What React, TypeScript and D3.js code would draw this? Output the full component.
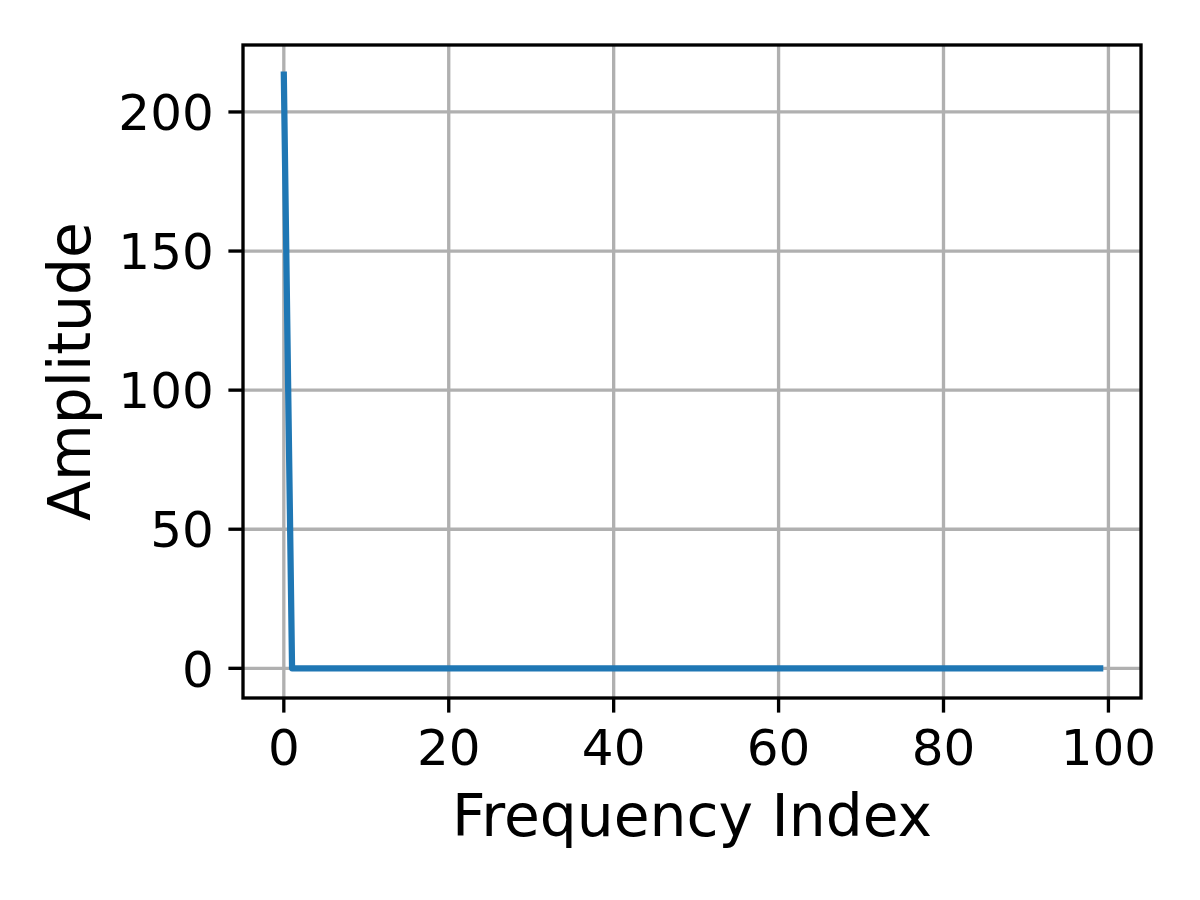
import React from "react";
import * as d3 from "d3";

const amplitude: number[] = [
  213.4, 0, 0, 0, 0, 0, 0, 0, 0, 0,
  0, 0, 0, 0, 0, 0, 0, 0, 0, 0,
  0, 0, 0, 0, 0, 0, 0, 0, 0, 0,
  0, 0, 0, 0, 0, 0, 0, 0, 0, 0,
  0, 0, 0, 0, 0, 0, 0, 0, 0, 0,
  0, 0, 0, 0, 0, 0, 0, 0, 0, 0,
  0, 0, 0, 0, 0, 0, 0, 0, 0, 0,
  0, 0, 0, 0, 0, 0, 0, 0, 0, 0,
  0, 0, 0, 0, 0, 0, 0, 0, 0, 0,
  0, 0, 0, 0, 0, 0, 0, 0, 0, 0,
];
const xTicks: number[] = [0, 20, 40, 60, 80, 100];
const yTicks: number[] = [0, 50, 100, 150, 200];
const xLabel = "Frequency Index";
const yLabel = "Amplitude";

export default function App() {
  const W = 1200, H = 900;
  const left = 243, right = 1141, top = 45, bottom = 698;
  const n = amplitude.length;
  const xMin = 0, xMax = n - 1;
  const xPad = (xMax - xMin) * 0.05;
  const yMinD = d3.min(amplitude)!, yMaxD = d3.max(amplitude)!;
  const yPad = (yMaxD - yMinD) * 0.05;
  const x = d3.scaleLinear().domain([xMin - xPad, xMax + xPad]).range([left, right]);
  const y = d3.scaleLinear().domain([yMinD - yPad, yMaxD + yPad]).range([bottom, top]);
  const line = d3.line<number>().x((_, i) => x(i)).y((d) => y(d));
  const font = "'DejaVu Sans', sans-serif";
  const tickLen = 14.6;
  const sw = 3.33;
  return (
    <svg width={W} height={H} style={{ position: "absolute", left: 0, top: 0, background: "#fff" }}>
      <rect x={0} y={0} width={W} height={H} fill="#fff" />
      <defs>
        <clipPath id="plotclip">
          <rect x={left} y={top} width={right - left} height={bottom - top} />
        </clipPath>
      </defs>
      {/* grid */}
      <g stroke="#b0b0b0" strokeWidth={sw}>
        {xTicks.map((t) => (
          <line key={"gx" + t} x1={x(t)} x2={x(t)} y1={top} y2={bottom} />
        ))}
        {yTicks.map((t) => (
          <line key={"gy" + t} x1={left} x2={right} y1={y(t)} y2={y(t)} />
        ))}
      </g>
      {/* data */}
      <path
        d={line(amplitude)!}
        fill="none"
        stroke="#1f77b4"
        strokeWidth={6.25}
        strokeLinejoin="round"
        strokeLinecap="square"
        clipPath="url(#plotclip)"
      />
      {/* spines */}
      <rect x={left} y={top} width={right - left} height={bottom - top} fill="none" stroke="#000" strokeWidth={sw} strokeLinejoin="miter" />
      {/* ticks */}
      <g stroke="#000" strokeWidth={sw}>
        {xTicks.map((t) => (
          <line key={"tx" + t} x1={x(t)} x2={x(t)} y1={bottom} y2={bottom + tickLen} />
        ))}
        {yTicks.map((t) => (
          <line key={"ty" + t} x1={left - tickLen} x2={left} y1={y(t)} y2={y(t)} />
        ))}
      </g>
      <g fontFamily={font} fontSize={50} fill="#000">
        {xTicks.map((t) => (
          <text key={"lx" + t} x={x(t)} y={764.5} textAnchor="middle">
            {t}
          </text>
        ))}
        {yTicks.map((t) => (
          <text key={"ly" + t} x={left - tickLen - 14.6} y={y(t) + 18.2} textAnchor="end">
            {t}
          </text>
        ))}
      </g>
      <text x={(left + right) / 2} y={836} textAnchor="middle" fontFamily={font} fontSize={58.3} fill="#000">
        {xLabel}
      </text>
      <text
        transform={`translate(90, ${(top + bottom) / 2}) rotate(-90)`}
        textAnchor="middle"
        fontFamily={font}
        fontSize={58.3}
        fill="#000"
      >
        {yLabel}
      </text>
    </svg>
  );
}
